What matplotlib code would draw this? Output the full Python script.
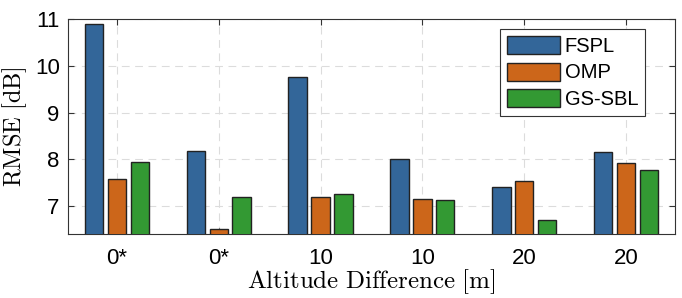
import numpy as np
import matplotlib.pyplot as plt

# data
groups = ['0*', '0*', '10', '10', '20', '20']
fspl = [10.89, 8.17, 9.77, 8.01, 7.40, 8.16]
omp = [7.57, 6.50, 7.19, 7.14, 7.54, 7.92]
gs_sbl = [7.95, 7.19, 7.25, 7.12, 6.71, 7.76]

series = [('FSPL', fspl, '#336699'),
          ('OMP', omp, '#cc661a'),
          ('GS-SBL', gs_sbl, '#339933')]

plt.rcParams['font.family'] = ['Liberation Sans', 'DejaVu Sans']
plt.rcParams['mathtext.fontset'] = 'cm'

fig = plt.figure(figsize=(6.82, 2.98), dpi=100)
ax = fig.add_axes([0.0997, 0.2148, 0.8900, 0.7212])

x = np.arange(1, len(groups) + 1)
width = 0.18
offsets = [-0.225, 0.0, 0.225]
for (name, vals, col), off in zip(series, offsets):
    ax.bar(x + off, vals, width, color=col, edgecolor='#222222',
           linewidth=1.0, label=name, zorder=3)

ax.set_xlim(0.52, 6.48)
ax.set_ylim(6.4, 11)
ax.set_xticks(x)
ax.set_xticklabels(groups)
ax.set_yticks([7, 8, 9, 10, 11])
ax.tick_params(direction='in', top=True, right=True, labelsize=16,
               length=4, width=0.8, color='#333333')
ax.tick_params(axis='x', pad=10)
ax.tick_params(axis='y', pad=6)
ax.grid(True, linestyle=(0, (7, 5)), color='#dcdcdc', linewidth=0.8, zorder=0)
for s in ax.spines.values():
    s.set_color('#333333')
    s.set_linewidth(0.8)

ax.set_ylabel(r'$\mathrm{RMSE\ [dB]}$', fontsize=17.5, labelpad=4)
ax.set_xlabel(r'$\mathrm{Altitude\ Difference\ [m]}$', fontsize=18, labelpad=-1)

leg = ax.legend(loc='upper right', fontsize=14.5, fancybox=False, framealpha=1,
                edgecolor='#333333', handlelength=2.6, handleheight=1.0,
                handletextpad=0.25, labelspacing=0.32, borderpad=0.35,
                borderaxespad=0, bbox_to_anchor=(0.951, 0.953))
leg.get_frame().set_linewidth(0.8)

plt.savefig('out.png', dpi=100)
